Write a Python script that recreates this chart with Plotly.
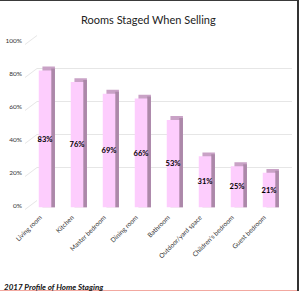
import plotly.graph_objects as go

categories = ["Living room", "Kitchen", "Master bedroom", "Dining room", "Bathroom",
              "Outdoor/yard space", "Children's bedroom", "Guest bedroom"]
values = [83, 76, 69, 66, 53, 31, 25, 21]
labels = [f"<b>{v}%</b>" for v in values]
tick_vals = [0, 20, 40, 60, 80, 100]
tick_text = [f"{t}%" for t in tick_vals]

W, H = 299, 291
FRONT = "#fdcdfd"
SIDE = "#ac88a9"
TOP = "#c9a2c6"
GRID = "#e6e6e6"

# pixel geometry helpers (layout only)
def py(p):
    return 1 - p / H

def px(p):
    return p / W

front_dom = [py(207.5), py(42.5)]
back_dom = [py(200.5), py(35.5)]
bar_xdom = [px(29), px(285)]
grid_xdom = [px(37), px(292)]

depth_x = 0.115  # category units
depth_y = 2.4    # percent units
bw = 0.39

idx = list(range(len(categories)))

fig = go.Figure()
# back wall grid subplot (x/y) - invisible trace to create it
fig.add_trace(go.Scatter(x=[0], y=[0], mode="markers", marker=dict(opacity=0),
                         xaxis="x", yaxis="y", hoverinfo="skip", showlegend=False))
# 3D top face of bars
fig.add_trace(go.Bar(x=idx, y=[v + depth_y for v in values], width=bw,
                     offset=-bw / 2 + depth_x, marker=dict(color=TOP, line=dict(width=0)),
                     xaxis="x2", yaxis="y2", hoverinfo="skip", showlegend=False))
# 3D side face of bars
fig.add_trace(go.Bar(x=idx, y=[v + depth_y * 0.5 for v in values], width=depth_x,
                     offset=bw / 2, marker=dict(color=SIDE, line=dict(width=0)),
                     xaxis="x2", yaxis="y2", hoverinfo="skip", showlegend=False))
# front faces
fig.add_trace(go.Bar(x=idx, y=values, width=bw, offset=-bw / 2,
                     marker=dict(color=FRONT, line=dict(width=0)),
                     text=labels, textposition="inside", insidetextanchor="middle",
                     constraintext="none", textangle=0,
                     textfont=dict(family="Lato", size=7.5, color="#000"),
                     xaxis="x2", yaxis="y2", showlegend=False))

shapes = []
# short slanted gridline pieces from front labels to back wall
for t in tick_vals:
    yf = front_dom[0] + t / 100 * (front_dom[1] - front_dom[0]) - 2 / H
    yb = back_dom[0] + t / 100 * (back_dom[1] - back_dom[0])
    shapes.append(dict(type="line", xref="paper", yref="paper", x0=px(25), y0=yf,
                       x1=grid_xdom[0], y1=yb, line=dict(color=GRID, width=1), layer="below"))
# borders
shapes.append(dict(type="line", xref="paper", yref="paper", x0=0, x1=1, y0=py(0.5), y1=py(0.5),
                   line=dict(color="#3a3a3a", width=1)))
shapes.append(dict(type="line", xref="paper", yref="paper", x0=px(298), x1=px(298), y0=0, y1=1,
                   line=dict(color="#333", width=2)))
shapes.append(dict(type="line", xref="paper", yref="paper", x0=0, x1=px(297), y0=py(290.5), y1=py(290.5),
                   line=dict(color="#f2a8a0", width=1)))

fig.update_layout(
    template="none",
    width=W, height=H,
    margin=dict(l=0, r=0, t=0, b=0, pad=0, autoexpand=False),
    paper_bgcolor="white", plot_bgcolor="rgba(0,0,0,0)",
    barmode="overlay",
    font=dict(family="Lato", color="#333"),
    xaxis=dict(domain=grid_xdom, range=[0, 1], visible=False, anchor="y", automargin=False),
    yaxis=dict(domain=back_dom, range=[0, 100], showgrid=True, gridcolor=GRID, gridwidth=1,
               tickvals=tick_vals, showticklabels=False, zeroline=False, showline=False,
               anchor="x", automargin=False, ticks=""),
    xaxis2=dict(domain=bar_xdom, range=[-0.5, 7.5], anchor="y2", automargin=False,
                tickvals=idx, ticktext=categories, tickangle=-45,
                ticklabelshift=-5, ticklabelstandoff=4,
                tickfont=dict(family="Lato", size=6.5, color="#333"),
                showgrid=False, zeroline=False, showline=False, ticks=""),
    yaxis2=dict(domain=front_dom, range=[0, 100], anchor="x2", automargin=False,
                tickvals=tick_vals, ticktext=tick_text, showgrid=False, zeroline=False,
                showline=False, ticks="", ticklabelstandoff=6, ticklabelshift=-2,
                tickfont=dict(family="Lato", size=6.5, color="#333")),
    shapes=shapes,
    annotations=[
        dict(text="Rooms Staged When Selling", xref="paper", yref="paper", x=px(148), y=py(20),
             showarrow=False, xanchor="center", yanchor="middle",
             font=dict(family="Lato", size=11, color="#222")),
        dict(text="<b><i>2017 Profile of Home Staging</i></b>", xref="paper", yref="paper",
             x=px(2), y=py(286.5), showarrow=False, xanchor="left", yanchor="middle",
             font=dict(family="Lato", size=8, color="#111")),
    ],
)

fig.write_html("out.html")
